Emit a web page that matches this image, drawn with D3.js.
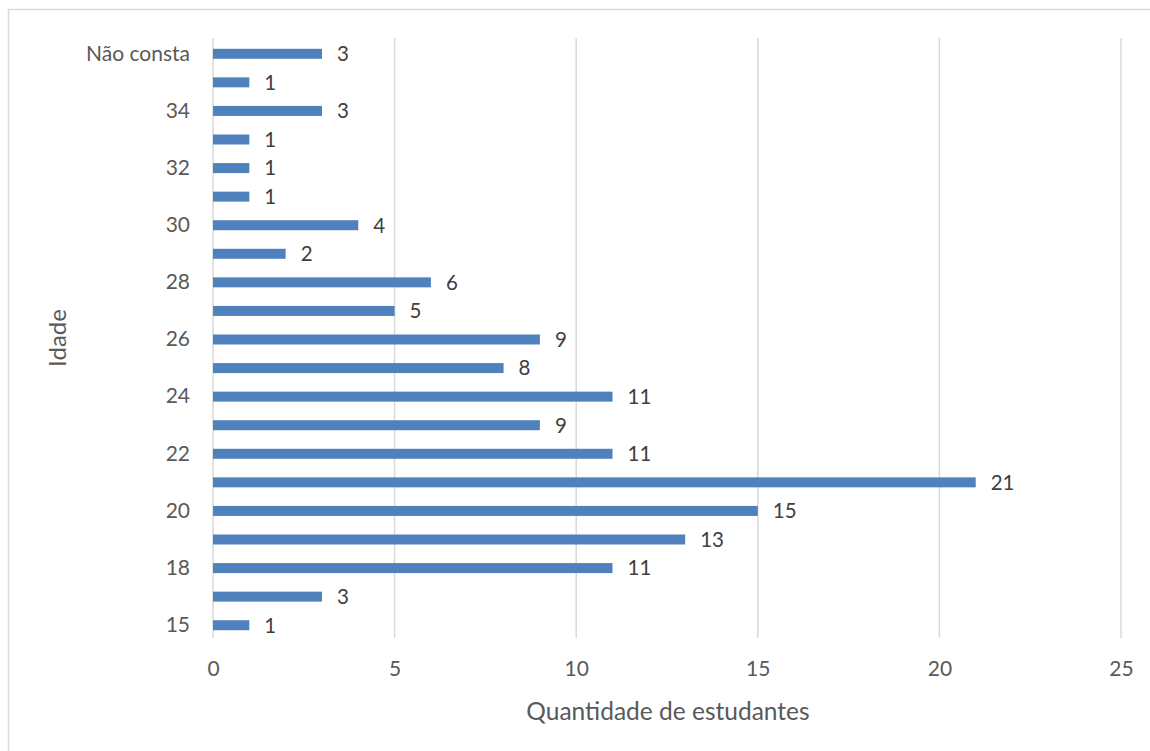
<!DOCTYPE html>
<html><head><meta charset="utf-8">
<script src="https://cdn.jsdelivr.net/npm/d3@7"></script>
<style>body{margin:0;background:#fff}svg{display:block}text{font-family:Lato,"Open Sans",sans-serif;fill:#595959}</style>
</head><body>
<script>
const categories = ["15","17","18","19","20","21","22","23","24","25","26","27","28","29","30","31","32","33","34","35","Não consta"];
const values = [1,3,11,13,15,21,11,9,11,8,9,5,6,2,4,1,1,1,3,1,3];
const shownLabels = ["15","18","20","22","24","26","28","30","32","34","Não consta"];
const xTicks = [0,5,10,15,20,25];

const W=1150,H=751;
const svg=d3.select("body").append("svg").attr("width",W).attr("height",H);
svg.append("rect").attr("x",8.5).attr("y",9.5).attr("width",1300).attr("height",900)
  .attr("fill","none").attr("stroke","#d9d9d9").attr("stroke-width",1.5);

const x=d3.scaleLinear().domain([0,25]).range([213,1121]);
const y=d3.scaleBand().domain(categories.slice().reverse()).range([39.5,639.5]).paddingInner(0.65).paddingOuter(0.325);

// gridlines
svg.append("g").selectAll("line").data(xTicks).join("line")
  .attr("x1",d=>x(d)).attr("x2",d=>x(d)).attr("y1",38).attr("y2",638)
  .attr("stroke","#d9d9d9").attr("stroke-width",1.5);

// bars
svg.append("g").selectAll("rect").data(categories).join("rect")
  .attr("x",x(0)).attr("y",(d)=>y(d)).attr("height",y.bandwidth())
  .attr("width",(d,i)=>x(values[i])-x(0)).attr("fill","#4f81bd");

// data labels
svg.append("g").selectAll("text").data(categories).join("text")
  .attr("x",(d,i)=>x(values[i])+15).attr("y",d=>y(d)+y.bandwidth()/2)
  .attr("dy","0.36em").attr("font-size",20.5).style("fill","#404040")
  .text((d,i)=>values[i]);

// y axis labels
const yAxis=d3.axisLeft(y).tickSize(0).tickPadding(23).tickFormat(d=>shownLabels.includes(d)?d:"");
const gy=svg.append("g").attr("transform",`translate(${x(0)},0)`).call(yAxis);
gy.select(".domain").remove();
gy.selectAll("text").attr("font-size",21).style("font-family","Lato").attr("fill","#595959");

// x axis
const xAxis=d3.axisBottom(x).tickValues(xTicks).tickSize(0).tickPadding(0);
const gx=svg.append("g").attr("transform","translate(0,661)").call(xAxis);
gx.select(".domain").remove();
gx.selectAll("text").attr("font-size",21).style("font-family","Lato").attr("fill","#595959").attr("dy","0.71em");

svg.append("text").attr("x",(x(0)+x(25))/2 + 1).attr("y",711).attr("dy","0.35em").attr("text-anchor","middle")
  .attr("font-size",24.5).text("Quantidade de estudantes");
svg.append("text").attr("transform","translate(58,338) rotate(-90)").attr("dy","0.35em").attr("text-anchor","middle")
  .attr("font-size",24).text("Idade");
</script>
</body></html>
